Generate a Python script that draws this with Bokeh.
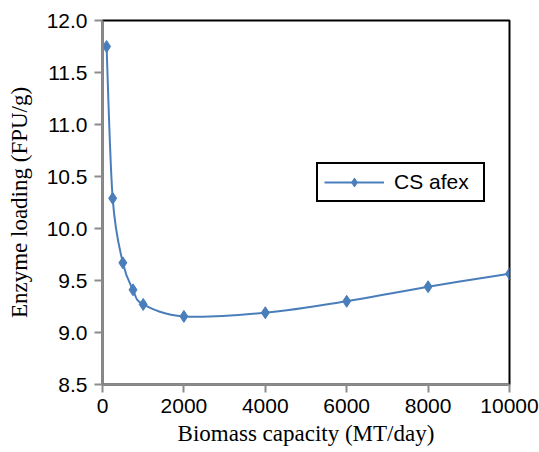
from bokeh.plotting import figure
from bokeh.models import FixedTicker, NumeralTickFormatter, Legend, LegendItem, ColumnDataSource
from bokeh.embed import file_html
from bokeh.resources import INLINE

# Data
capacity = [100, 250, 500, 750, 1000, 2000, 4000, 6000, 8000, 10000]
enzyme = [11.75, 10.29, 9.67, 9.41, 9.27, 9.155, 9.19, 9.30, 9.44, 9.565]
x_ticks = [0, 2000, 4000, 6000, 8000, 10000]
y_ticks = [8.5, 9.0, 9.5, 10.0, 10.5, 11.0, 11.5, 12.0]
series_name = "CS afex"

BLUE = "#4a7ebb"

p = figure(frame_width=407, frame_height=364, output_backend="svg", toolbar_location=None,
           x_range=(0, 10000), y_range=(8.5, 12.0),
           min_border_left=102, min_border_right=30, min_border_top=20, min_border_bottom=68)
p.background_fill_color = "white"
p.border_fill_color = "white"
p.outline_line_color = "black"
p.outline_line_alpha = 1
p.outline_line_width = 2
p.grid.visible = False

# smooth curve (Catmull-Rom style Bezier segments built from the data)
n = len(capacity)
x0s, y0s, x1s, y1s, cx0, cy0, cx1, cy1 = [], [], [], [], [], [], [], []
for i in range(n - 1):
    pm = max(i - 1, 0)
    pp = min(i + 2, n - 1)
    x0s.append(capacity[i]); y0s.append(enzyme[i])
    x1s.append(capacity[i + 1]); y1s.append(enzyme[i + 1])
    cx0.append(capacity[i] + (capacity[i + 1] - capacity[pm]) / 6)
    cy0.append(enzyme[i] + (enzyme[i + 1] - enzyme[pm]) / 6)
    cx1.append(capacity[i + 1] - (capacity[pp] - capacity[i]) / 6)
    cy1.append(enzyme[i + 1] - (enzyme[pp] - enzyme[i]) / 6)

bsrc = ColumnDataSource(dict(x0=x0s, y0=y0s, x1=x1s, y1=y1s, cx0=cx0, cy0=cy0, cx1=cx1, cy1=cy1))
p.bezier(x0="x0", y0="y0", x1="x1", y1="y1", cx0="cx0", cy0="cy0", cx1="cx1", cy1="cy1",
         source=bsrc, line_color=BLUE, line_width=2)

src = ColumnDataSource(dict(x=capacity, y=enzyme))
pts = p.scatter(x="x", y="y", source=src, marker="diamond", size=12,
                fill_color=BLUE, line_color=BLUE)

legend_line = p.line(x=[0, 1], y=[0, 0], line_color=BLUE, line_width=2, visible=False)
legend = Legend(items=[LegendItem(label=series_name, renderers=[legend_line, pts])],
                location=(214, 182))
legend.border_line_color = "black"
legend.border_line_alpha = 1
legend.border_line_width = 2
legend.label_text_font = "Liberation Sans"
legend.label_text_font_size = "21px"
legend.label_text_color = "black"
legend.glyph_width = 60
legend.glyph_height = 22
legend.label_height = 22
legend.label_width = 83
legend.padding = 6
legend.margin = 0
legend.label_standoff = 10
legend.background_fill_alpha = 1
p.add_layout(legend, "center")

# axes
for ax in (p.xaxis[0], p.yaxis[0]):
    ax.axis_line_color = "#8c8c8c"
    ax.axis_line_width = 2
    ax.major_tick_line_color = "#8c8c8c"
    ax.major_tick_line_width = 2
    ax.major_tick_out = 8
    ax.major_tick_in = 0
    ax.minor_tick_line_color = None
    ax.major_label_text_font = "Liberation Sans"
    ax.major_label_text_font_size = "21px"
    ax.major_label_text_color = "black"
    ax.axis_label_text_font = "Liberation Serif"
    ax.axis_label_text_font_size = "23px"
    ax.axis_label_text_font_style = "normal"
    ax.axis_label_text_color = "black"

p.xaxis.ticker = FixedTicker(ticks=x_ticks)
p.yaxis.ticker = FixedTicker(ticks=y_ticks)
p.yaxis.formatter = NumeralTickFormatter(format="0.0")
p.xaxis.formatter = NumeralTickFormatter(format="0")
p.xaxis.axis_label = "Biomass capacity (MT/day)"
p.yaxis.axis_label = "Enzyme loading (FPU/g)"
p.xaxis.major_label_standoff = 6
p.yaxis.major_label_standoff = 7
p.xaxis.axis_label_standoff = 5
p.yaxis.axis_label_standoff = 12

open("out.html", "w").write(file_html(p, INLINE))
